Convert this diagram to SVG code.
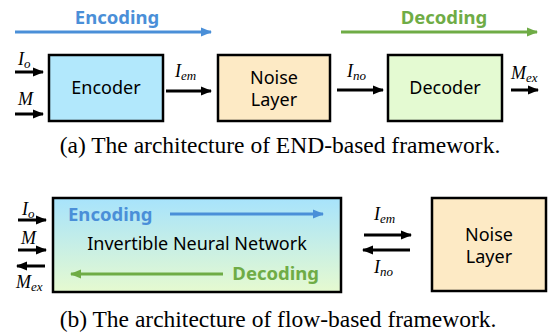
<svg xmlns="http://www.w3.org/2000/svg" width="549" height="335" viewBox="0 0 549 335">
<style>
.box{stroke:#000;stroke-width:2.5}
.lbl{font-family:"Noto Sans","Open Sans",sans-serif;font-size:18px;fill:#000;text-anchor:middle}
.flow{font-family:"Noto Sans","Open Sans",sans-serif;font-size:18.5px;font-weight:bold}
.math{font-family:"Liberation Serif","Times New Roman",serif;font-style:italic;font-size:18px;fill:#000}
.sub{font-size:13px}
.cap{font-family:"Liberation Serif","Times New Roman",serif;font-size:23.5px;fill:#000;text-anchor:middle}
.blk{stroke:#000;stroke-width:3;fill:none}
.blue{stroke:#4a8fd8;stroke-width:3;fill:none}
.green{stroke:#6fac46;stroke-width:3;fill:none}
</style>
<defs>
<marker id="ah" markerUnits="userSpaceOnUse" markerWidth="12" markerHeight="10" refX="10" refY="5" orient="auto"><path d="M0,0.5 L11,5 L0,9.5 Z" fill="#000"/></marker>
<marker id="ahb" markerUnits="userSpaceOnUse" markerWidth="12" markerHeight="10" refX="10" refY="5" orient="auto"><path d="M0,0.5 L11,5 L0,9.5 Z" fill="#4a8fd8"/></marker>
<marker id="ahg" markerUnits="userSpaceOnUse" markerWidth="12" markerHeight="10" refX="10" refY="5" orient="auto"><path d="M0,0.5 L11,5 L0,9.5 Z" fill="#6fac46"/></marker>
<linearGradient id="inn" x1="0" y1="0" x2="0" y2="1"><stop offset="0" stop-color="#a7e3fc"/><stop offset="1" stop-color="#e6fad0"/></linearGradient>
</defs>

<g id="flow-a">
<text class="flow" x="117" y="24" fill="#4a8fd8" text-anchor="middle">Encoding</text>
<text class="flow" x="444" y="24" fill="#6fac46" text-anchor="middle">Decoding</text>
</g>

<g id="encoder"><rect class="box" x="49" y="55" width="114" height="66" fill="#b2e8fc"/><text class="lbl" x="106" y="94">Encoder</text></g>
<g id="noise-a"><rect class="box" x="218" y="55" width="112" height="66" fill="#fdeac5"/><text class="lbl" x="274" y="84">Noise</text><text class="lbl" x="274" y="106">Layer</text></g>
<g id="decoder"><rect class="box" x="388" y="55" width="114" height="66" fill="#e4fad2"/><text class="lbl" x="445" y="94">Decoder</text></g>

<g id="inn"><rect class="box" x="53" y="198" width="288" height="94" fill="url(#inn)"/>
<text class="flow" x="68" y="221" fill="#4a8fd8">Encoding</text>
<text class="lbl" x="197" y="250" font-size="19">Invertible Neural Network</text>
<text class="flow" x="319" y="280" fill="#6fac46" text-anchor="end">Decoding</text>
</g>
<g id="noise-b"><rect class="box" x="432" y="198" width="114" height="93" fill="#fdeac5"/><text class="lbl" x="489" y="241">Noise</text><text class="lbl" x="489" y="263">Layer</text></g>

<g id="connectors">
<line class="blue" x1="15" y1="32" x2="211" y2="32" marker-end="url(#ahb)"/>
<line class="green" x1="341" y1="32" x2="537" y2="32" marker-end="url(#ahg)"/>
<line class="blk" x1="15" y1="72" x2="43" y2="72" marker-end="url(#ah)"/>
<line class="blk" x1="15" y1="114" x2="43" y2="114" marker-end="url(#ah)"/>
<line class="blk" x1="166" y1="91" x2="211" y2="91" marker-end="url(#ah)"/>
<line class="blk" x1="337" y1="90" x2="383" y2="90" marker-end="url(#ah)"/>
<line class="blk" x1="511" y1="90" x2="538" y2="90" marker-end="url(#ah)"/>
<line class="blue" x1="170" y1="214" x2="323" y2="214" marker-end="url(#ahb)"/>
<line class="green" x1="223" y1="274" x2="71" y2="274" marker-end="url(#ahg)"/>
<line class="blk" x1="18" y1="220" x2="46" y2="220" marker-end="url(#ah)"/>
<line class="blk" x1="18" y1="250" x2="46" y2="250" marker-end="url(#ah)"/>
<line class="blk" x1="45" y1="266" x2="17" y2="266" marker-end="url(#ah)"/>
<line class="blk" x1="364" y1="235" x2="411" y2="235" marker-end="url(#ah)"/>
<line class="blk" x1="410" y1="250" x2="363" y2="250" marker-end="url(#ah)"/>
</g>

<g id="labels">
<text class="math" x="18" y="65">I<tspan class="sub" dy="3">o</tspan></text>
<text class="math" x="18" y="105">M</text>
<text class="math" x="175" y="77">I<tspan class="sub" dy="3">em</tspan></text>
<text class="math" x="347" y="77">I<tspan class="sub" dy="3">no</tspan></text>
<text class="math" x="511" y="79">M<tspan class="sub" dy="3">ex</tspan></text>
<text class="math" x="22" y="215">I<tspan class="sub" dy="3">o</tspan></text>
<text class="math" x="21" y="244">M</text>
<text class="math" x="16" y="288">M<tspan class="sub" dy="3">ex</tspan></text>
<text class="math" x="374" y="220">I<tspan class="sub" dy="3">em</tspan></text>
<text class="math" x="374" y="273">I<tspan class="sub" dy="3">no</tspan></text>
</g>

<text class="cap" x="280" y="153">(a) The architecture of END-based framework.</text>
<text class="cap" x="278" y="327">(b) The architecture of flow-based framework.</text>
</svg>
